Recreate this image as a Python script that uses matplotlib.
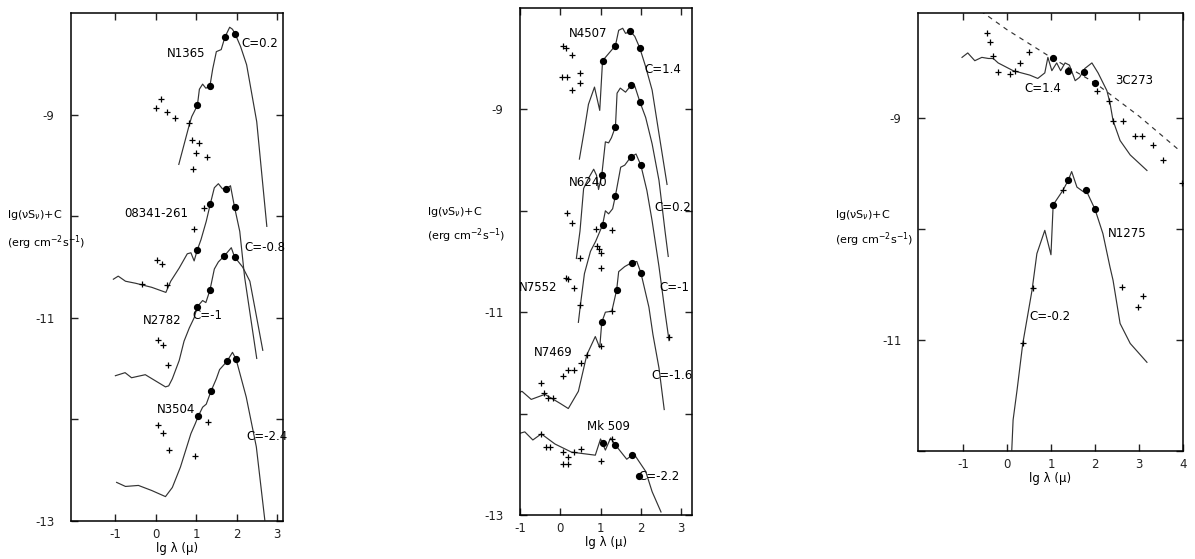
import numpy as np
import matplotlib

matplotlib.use("Agg")
import matplotlib.pyplot as plt

plt.rcParams["font.family"] = ["DejaVu Sans"]
plt.rcParams["axes.unicode_minus"] = False

# ---- panel 1 : lg lambda (micron) vs lg(nu S_nu)+C ----
n1365_x = [0.57, 0.83, 0.89, 1.03, 1.08, 1.16, 1.24, 1.34, 1.41, 1.5, 1.62, 1.71, 1.83, 1.9, 1.97, 2.1, 2.25, 2.5, 2.75]
n1365_y = [-9.49, -9.1, -9.02, -8.91, -8.75, -8.7, -8.74, -8.72, -8.55, -8.38, -8.36, -8.24, -8.14, -8.16, -8.21, -8.33, -8.51, -9.07, -10.1]
n1365_dot_x = [1.03, 1.34, 1.71, 1.97]
n1365_dot_y = [-8.91, -8.72, -8.24, -8.21]
n1365_plus_x = [0.0, 0.13, 0.27, 0.47, 0.83, 0.89, 1.06, 0.99, 1.26, 0.91]
n1365_plus_y = [-8.93, -8.85, -8.97, -9.03, -9.08, -9.25, -9.28, -9.38, -9.42, -9.54]

s08341_x = [-1.05, -0.93, -0.75, -0.5, -0.1, 0.25, 0.37, 0.58, 0.78, 0.87, 0.95, 1.03, 1.12, 1.25, 1.35, 1.45, 1.55, 1.65, 1.75, 1.85, 1.95, 2.08, 2.2, 2.35, 2.5]
s08341_y = [-10.62, -10.59, -10.64, -10.66, -10.7, -10.75, -10.64, -10.51, -10.37, -10.36, -10.44, -10.33, -10.23, -10.05, -9.88, -9.72, -9.68, -9.73, -9.73, -9.7, -9.91, -10.15, -10.6, -11.0, -11.4]
s08341_dot_x = [1.03, 1.35, 1.75, 1.95]
s08341_dot_y = [-10.33, -9.88, -9.73, -9.91]
s08341_plus_x = [1.2, 0.95, 0.03, 0.15, 0.28, -0.35]
s08341_plus_y = [-9.92, -10.13, -10.43, -10.47, -10.68, -10.67]

n2782_x = [-1.0, -0.76, -0.6, -0.26, -0.01, 0.24, 0.32, 0.41, 0.58, 0.7, 0.83, 0.95, 1.03, 1.16, 1.24, 1.34, 1.45, 1.55, 1.7, 1.87, 1.95, 2.15, 2.33, 2.5, 2.65]
n2782_y = [-11.57, -11.54, -11.59, -11.56, -11.62, -11.68, -11.67, -11.6, -11.42, -11.23, -11.1, -11.0, -10.89, -10.83, -10.85, -10.73, -10.52, -10.45, -10.39, -10.31, -10.4, -10.5, -10.64, -11.0, -11.32]
n2782_dot_x = [1.03, 1.34, 1.7, 1.95]
n2782_dot_y = [-10.89, -10.73, -10.39, -10.4]
n2782_plus_x = [0.06, 0.18, 0.3]
n2782_plus_y = [-11.22, -11.27, -11.46]

n3504_x = [-0.97, -0.75, -0.43, -0.1, 0.24, 0.41, 0.61, 0.87, 0.98, 1.05, 1.16, 1.25, 1.37, 1.5, 1.58, 1.76, 1.9, 1.99, 2.24, 2.49, 2.7]
n3504_y = [-12.62, -12.66, -12.65, -12.7, -12.76, -12.67, -12.47, -12.14, -12.04, -11.97, -11.88, -11.85, -11.72, -11.6, -11.51, -11.43, -11.34, -11.41, -11.78, -12.27, -12.99]
n3504_dot_x = [1.05, 1.37, 1.76, 1.99]
n3504_dot_y = [-11.97, -11.72, -11.43, -11.41]
n3504_plus_x = [0.06, 0.18, 0.33, 0.98, 1.3]
n3504_plus_y = [-12.06, -12.13, -12.3, -12.36, -12.03]

# ---- panel 2 ----
n4507_x = [0.475, 0.6, 0.7, 0.85, 0.98, 1.05, 1.2, 1.37, 1.45, 1.55, 1.62, 1.74, 1.85, 1.97, 2.12, 2.28, 2.45, 2.65]
n4507_y = [-9.49, -9.2, -8.95, -8.78, -9.01, -8.52, -8.45, -8.37, -8.22, -8.2, -8.25, -8.23, -8.28, -8.39, -8.58, -8.81, -9.24, -9.74]
n4507_dot_x = [1.05, 1.37, 1.74, 1.97]
n4507_dot_y = [-8.52, -8.37, -8.23, -8.39]
n4507_plus_x = [0.07, 0.15, 0.3, 0.05, 0.18, 0.5, 0.5, 0.3]
n4507_plus_y = [-8.37, -8.39, -8.46, -8.68, -8.68, -8.64, -8.74, -8.81]

n6240_x = [0.4, 0.49, 0.58, 0.7, 0.83, 0.9, 0.95, 1.03, 1.12, 1.2, 1.27, 1.37, 1.41, 1.49, 1.62, 1.76, 1.85, 1.98, 2.12, 2.28, 2.45, 2.6, 2.68]
n6240_y = [-10.47, -10.2, -9.78, -9.68, -9.59, -9.65, -9.79, -9.65, -9.32, -9.33, -9.28, -9.17, -8.84, -8.79, -8.83, -8.76, -8.77, -8.93, -9.08, -9.34, -9.7, -10.2, -10.45]
n6240_dot_x = [1.03, 1.37, 1.76, 1.98]
n6240_dot_y = [-9.65, -9.17, -8.76, -8.93]
n6240_plus_x = [0.18, 0.28, 0.88, 1.28, 0.9, 0.95, 1.0, 0.5, 1.0]
n6240_plus_y = [-10.02, -10.12, -10.18, -10.19, -10.35, -10.38, -10.42, -10.47, -10.56]

n7552_x = [0.45, 0.5, 0.6, 0.75, 0.88, 1.05, 1.12, 1.2, 1.3, 1.37, 1.5, 1.6, 1.75, 1.88, 2.0, 2.15, 2.28, 2.45, 2.6, 2.7]
n7552_y = [-11.1, -10.93, -10.62, -10.4, -10.3, -10.14, -10.0, -10.03, -9.98, -9.85, -9.57, -9.55, -9.47, -9.44, -9.55, -9.8, -10.1, -10.55, -11.0, -11.28]
n7552_dot_x = [1.05, 1.37, 1.75, 2.0]
n7552_dot_y = [-10.14, -9.85, -9.47, -9.55]
n7552_plus_x = [0.15, 0.2, 0.33, 0.5, 2.7]
n7552_plus_y = [-10.66, -10.67, -10.76, -10.93, -11.24]

n7469_x = [-1.05, -0.95, -0.72, -0.38, 0.0, 0.2, 0.45, 0.66, 0.87, 0.98, 1.03, 1.12, 1.28, 1.4, 1.45, 1.6, 1.78, 1.9, 2.0, 2.2, 2.3, 2.45, 2.58]
n7469_y = [-11.8, -11.78, -11.86, -11.81, -11.9, -11.95, -11.78, -11.42, -11.24, -11.35, -11.1, -11.0, -10.99, -10.78, -10.6, -10.55, -10.51, -10.5, -10.61, -10.95, -11.22, -11.55, -11.96]
n7469_dot_x = [1.03, 1.4, 1.78, 2.0]
n7469_dot_y = [-11.1, -10.78, -10.51, -10.61]
n7469_plus_x = [-0.47, -0.4, -0.3, -0.17, 0.07, 0.2, 0.33, 0.52, 0.66, 1.0, 1.28]
n7469_plus_y = [-11.7, -11.8, -11.85, -11.85, -11.63, -11.57, -11.57, -11.5, -11.42, -11.33, -10.99]

mk509_x = [-1.05, -0.88, -0.68, -0.47, -0.13, 0.28, 0.87, 1.0, 1.12, 1.25, 1.37, 1.65, 1.78, 1.85, 2.12, 2.28, 2.5]
mk509_y = [-12.2, -12.18, -12.26, -12.2, -12.3, -12.38, -12.41, -12.25, -12.36, -12.24, -12.31, -12.45, -12.41, -12.41, -12.57, -12.77, -12.97]
mk509_dot_x = [1.05, 1.37, 1.78, 1.95]
mk509_dot_y = [-12.29, -12.31, -12.41, -12.62]
mk509_plus_x = [-0.47, -0.35, -0.25, 0.07, 0.2, 0.33, 0.52, 0.07, 0.2, 1.0, 1.28]
mk509_plus_y = [-12.2, -12.33, -12.33, -12.38, -12.43, -12.38, -12.35, -12.5, -12.5, -12.47, -12.25]

# ---- panel 3 ----
q3c273_x = [-1.02, -0.89, -0.73, -0.57, -0.42, -0.31, -0.2, 0.14, 0.52, 0.7, 0.86, 0.93, 1.02, 1.13, 1.22, 1.32, 1.42, 1.55, 1.65, 1.77, 1.93, 2.07, 2.27, 2.34, 2.41, 2.57, 2.8, 3.18]
q3c273_y = [-8.45, -8.41, -8.48, -8.45, -8.46, -8.46, -8.5, -8.57, -8.61, -8.64, -8.59, -8.45, -8.57, -8.5, -8.57, -8.5, -8.52, -8.66, -8.63, -8.55, -8.5, -8.59, -8.75, -8.86, -9.02, -9.2, -9.33, -9.47]
q3c273_pl_x = [-0.6, 0.0, 1.0, 2.0, 3.0, 3.95]
q3c273_pl_y = [-8.03, -8.2, -8.45, -8.68, -8.98, -9.3]
q3c273_dot_x = [1.05, 1.39, 1.75, 2.0]
q3c273_dot_y = [-8.46, -8.57, -8.58, -8.68]
q3c273_plus_x = [-0.46, -0.39, -0.31, -0.2, 0.07, 0.18, 0.3, 0.5, 2.05, 2.32, 2.41, 2.64, 2.91, 3.07, 3.32, 3.55, 3.98]
q3c273_plus_y = [-8.23, -8.31, -8.44, -8.58, -8.6, -8.57, -8.5, -8.4, -8.75, -8.84, -9.02, -9.02, -9.16, -9.16, -9.24, -9.38, -9.58]

n1275_x = [0.11, 0.14, 0.23, 0.36, 0.57, 0.68, 0.86, 1.0, 1.05, 1.27, 1.39, 1.47, 1.59, 1.73, 1.8, 2.0, 2.18, 2.34, 2.41, 2.57, 2.8, 3.18]
n1275_y = [-11.99, -11.72, -11.45, -11.03, -10.55, -10.22, -10.01, -10.23, -9.78, -9.65, -9.56, -9.48, -9.62, -9.66, -9.65, -9.82, -10.04, -10.34, -10.46, -10.85, -11.03, -11.2]
n1275_dot_x = [1.05, 1.39, 1.8, 2.0]
n1275_dot_y = [-9.78, -9.56, -9.65, -9.82]
n1275_plus_x = [0.59, 0.36, 1.27, 2.61, 3.09, 2.98]
n1275_plus_y = [-10.53, -11.03, -9.65, -10.52, -10.6, -10.7]

LINE = dict(color="#333333", lw=0.85)
DOT = dict(ls="none", marker="o", ms=4.2, color="black")
PLUS = dict(ls="none", marker="+", ms=4.5, mew=0.9, color="black")
FS = 8.5


def draw_source(ax, x, y, dx, dy, px, py):
    ax.plot(x, y, **LINE)
    ax.plot(dx, dy, **DOT)
    ax.plot(px, py, **PLUS)


def style_axes(ax, xlim, ylim, xticks, yticks):
    ax.set_xlim(*xlim)
    ax.set_ylim(*ylim)
    ax.set_xticks(xticks, [str(t) for t in xticks])
    ax.set_yticks(yticks, [str(t) if t % 2 else "" for t in yticks])
    ax.tick_params(direction="in", top=True, right=True, length=5, width=1,
                   labelsize=FS, colors="#222")
    ax.tick_params(axis="y", pad=12)
    ax.tick_params(axis="x", pad=5)
    for s in ax.spines.values():
        s.set_linewidth(1.1)
    ax.set_xlabel("lg λ (μ)", fontsize=FS, labelpad=1)


fig = plt.figure(figsize=(11.95, 5.59), dpi=100)

# panel 1
ax1 = fig.add_axes([0.0594, 0.068, 0.1774, 0.9087])
draw_source(ax1, n1365_x, n1365_y, n1365_dot_x, n1365_dot_y, n1365_plus_x, n1365_plus_y)
draw_source(ax1, s08341_x, s08341_y, s08341_dot_x, s08341_dot_y, s08341_plus_x, s08341_plus_y)
draw_source(ax1, n2782_x, n2782_y, n2782_dot_x, n2782_dot_y, n2782_plus_x, n2782_plus_y)
draw_source(ax1, n3504_x, n3504_y, n3504_dot_x, n3504_dot_y, n3504_plus_x, n3504_plus_y)
style_axes(ax1, (-2.1, 3.15), (-13, -8.0), [-1, 0, 1, 2, 3], list(range(-13, -8)))
for txt, x, y in [("N1365", 0.75, -8.4), ("C=0.2", 2.57, -8.3), ("08341-261", 0.0, -9.97),
                  ("C=-0.8", 2.7, -10.31), ("N2782", 0.15, -11.03), ("C=-1", 1.28, -10.98),
                  ("N3504", 0.5, -11.9), ("C=-2.4", 2.75, -12.17)]:
    ax1.text(x, y, txt, fontsize=FS, ha="center", va="center")

# panel 2
ax2 = fig.add_axes([0.4351, 0.0787, 0.144, 0.907])
draw_source(ax2, n4507_x, n4507_y, n4507_dot_x, n4507_dot_y, n4507_plus_x, n4507_plus_y)
draw_source(ax2, n6240_x, n6240_y, n6240_dot_x, n6240_dot_y, n6240_plus_x, n6240_plus_y)
draw_source(ax2, n7552_x, n7552_y, n7552_dot_x, n7552_dot_y, n7552_plus_x, n7552_plus_y)
draw_source(ax2, n7469_x, n7469_y, n7469_dot_x, n7469_dot_y, n7469_plus_x, n7469_plus_y)
draw_source(ax2, mk509_x, mk509_y, mk509_dot_x, mk509_dot_y, mk509_plus_x, mk509_plus_y)
style_axes(ax2, (-1.0, 3.27), (-13, -8.0), [-1, 0, 1, 2, 3], list(range(-13, -8)))
for txt, x, y in [("N4507", 0.7, -8.25), ("C=1.4", 2.55, -8.61), ("N6240", 0.7, -9.72),
                  ("C=0.2", 2.8, -9.97), ("N7552", -0.55, -10.76), ("C=-1", 2.83, -10.76),
                  ("N7469", -0.17, -11.4), ("C=-1.6", 2.78, -11.62), ("Mk 509", 1.2, -12.13),
                  ("C=-2.2", 2.45, -12.62)]:
    ax2.text(x, y, txt, fontsize=FS, ha="center", va="center")

# panel 3
ax3 = fig.add_axes([0.7682, 0.1932, 0.2218, 0.7835])
ax3.plot(q3c273_pl_x, q3c273_pl_y, color="#333333", lw=0.85, ls=(0, (4, 4)))
draw_source(ax3, q3c273_x, q3c273_y, q3c273_dot_x, q3c273_dot_y, q3c273_plus_x, q3c273_plus_y)
draw_source(ax3, n1275_x, n1275_y, n1275_dot_x, n1275_dot_y, n1275_plus_x, n1275_plus_y)
style_axes(ax3, (-2.02, 4.0), (-12, -8.05), [-1, 0, 1, 2, 3, 4], list(range(-12, -8)))
for txt, x, y in [("3C273", 2.9, -8.66), ("C=1.4", 0.82, -8.73), ("N1275", 2.72, -10.04),
                  ("C=-0.2", 0.98, -10.79)]:
    ax3.text(x, y, txt, fontsize=FS, ha="center", va="center")

# y-axis labels placed to the left of each frame, as in the original
for x0, y1, y2 in [(7, 215, 243), (427, 212, 236), (835, 215, 240)]:
    fig.text(x0 / 1195, 1 - y1 / 559, "lg(νS$_ν$)+C", fontsize=FS - 0.5, va="center")
    fig.text(x0 / 1195, 1 - y2 / 559, "(erg cm$^{-2}$s$^{-1}$)", fontsize=FS - 0.5, va="center")

fig.savefig("out.png", dpi=100)
